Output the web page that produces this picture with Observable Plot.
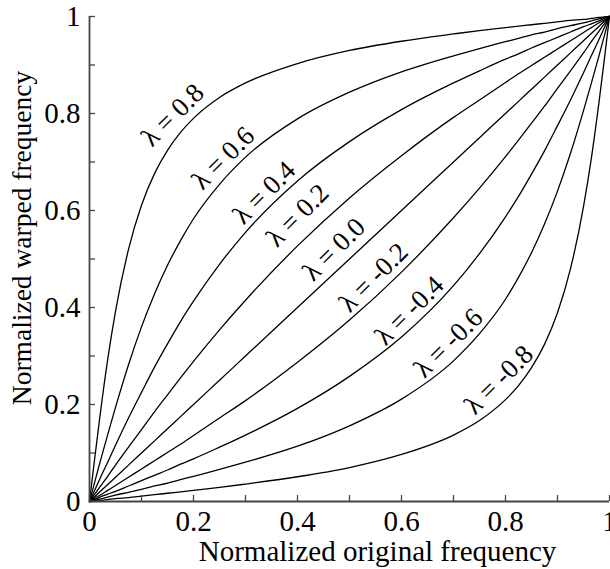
<!DOCTYPE html>
<html><head><meta charset="utf-8">
<script src="https://cdn.jsdelivr.net/npm/d3@7"></script>
<script src="https://cdn.jsdelivr.net/npm/@observablehq/plot@0.6"></script>
<style>body{margin:0;background:#fff}</style>
</head><body><div id="chart"></div>
<script>
// Normalized original frequency (sample positions)
const xs = [0, 0.01, 0.02, 0.035, 0.05, 0.075, 0.1, 0.125, 0.15, 0.175, 0.2, 0.25, 0.3, 0.4, 0.5, 0.6, 0.7, 0.75, 0.8, 0.825, 0.85, 0.875, 0.9, 0.925, 0.95, 0.965, 0.98, 0.99, 1];

// Normalized warped frequency, one array per lambda
const yL08  = [0, 0.089, 0.175, 0.293, 0.392, 0.520, 0.611, 0.676, 0.724, 0.761, 0.790, 0.833, 0.863, 0.903, 0.930, 0.949, 0.964, 0.971, 0.977, 0.980, 0.983, 0.986, 0.989, 0.992, 0.994, 0.996, 0.998, 0.999, 1];
const yL06  = [0, 0.040, 0.080, 0.138, 0.194, 0.282, 0.360, 0.428, 0.487, 0.538, 0.583, 0.654, 0.710, 0.789, 0.844, 0.886, 0.919, 0.934, 0.948, 0.955, 0.962, 0.968, 0.975, 0.981, 0.987, 0.991, 0.995, 0.998, 1];
const yL04  = [0, 0.023, 0.047, 0.081, 0.116, 0.172, 0.225, 0.277, 0.325, 0.371, 0.413, 0.489, 0.555, 0.661, 0.742, 0.808, 0.863, 0.888, 0.912, 0.923, 0.935, 0.946, 0.957, 0.968, 0.979, 0.985, 0.991, 0.996, 1];
const yL02  = [0, 0.015, 0.030, 0.052, 0.075, 0.112, 0.148, 0.185, 0.220, 0.255, 0.289, 0.354, 0.415, 0.527, 0.626, 0.713, 0.792, 0.828, 0.864, 0.882, 0.899, 0.916, 0.933, 0.950, 0.967, 0.977, 0.987, 0.993, 1];
const yL00  = [0, 0.01, 0.02, 0.035, 0.05, 0.075, 0.1, 0.125, 0.15, 0.175, 0.2, 0.25, 0.3, 0.4, 0.5, 0.6, 0.7, 0.75, 0.8, 0.825, 0.85, 0.875, 0.9, 0.925, 0.95, 0.965, 0.98, 0.99, 1];
const yLm02 = [0, 0.007, 0.013, 0.023, 0.033, 0.050, 0.067, 0.084, 0.101, 0.118, 0.136, 0.172, 0.208, 0.287, 0.374, 0.473, 0.585, 0.646, 0.711, 0.745, 0.780, 0.815, 0.852, 0.888, 0.925, 0.948, 0.970, 0.985, 1];
const yLm04 = [0, 0.004, 0.009, 0.015, 0.021, 0.032, 0.043, 0.054, 0.065, 0.077, 0.088, 0.112, 0.137, 0.192, 0.258, 0.339, 0.445, 0.511, 0.587, 0.629, 0.675, 0.723, 0.775, 0.828, 0.884, 0.919, 0.953, 0.977, 1];
const yLm06 = [0, 0.002, 0.005, 0.009, 0.013, 0.019, 0.025, 0.032, 0.038, 0.045, 0.052, 0.066, 0.081, 0.114, 0.156, 0.211, 0.290, 0.346, 0.417, 0.462, 0.513, 0.572, 0.640, 0.718, 0.806, 0.862, 0.920, 0.960, 1];
const yLm08 = [0, 0.001, 0.002, 0.004, 0.006, 0.008, 0.011, 0.014, 0.017, 0.020, 0.023, 0.029, 0.036, 0.051, 0.070, 0.097, 0.137, 0.167, 0.210, 0.239, 0.276, 0.324, 0.389, 0.480, 0.608, 0.707, 0.825, 0.911, 1];

const lambdas = ["0.8", "0.6", "0.4", "0.2", "0.0", "-0.2", "-0.4", "-0.6", "-0.8"];
const series = [yL08, yL06, yL04, yL02, yL00, yLm02, yLm04, yLm06, yLm08];

// Curve label anchors (data units)
const labelX = [0.160, 0.257, 0.336, 0.400, 0.470, 0.546, 0.615, 0.690, 0.787];
const labelY = [0.797, 0.708, 0.637, 0.590, 0.520, 0.462, 0.394, 0.327, 0.251];

// Axis ticks
const majorTicks = [0, 0.2, 0.4, 0.6, 0.8, 1];
const minorTicks = [0, 0.1, 0.2, 0.3, 0.4, 0.5, 0.6, 0.7, 0.8, 0.9, 1];
const xTitle = "Normalized original frequency";
const yTitle = "Normalized warped frequency";

const rows = [];
series.forEach((ys, k) => ys.forEach((y, i) => rows.push({lambda: lambdas[k], x: xs[i], y})));
const labels = lambdas.map((l, i) => ({text: "λ = " + l, x: labelX[i], y: labelY[i]}));

const serif = "Liberation Serif, Times New Roman, serif";

const chart = Plot.plot({
  width: 610,
  height: 569,
  marginLeft: 89,
  marginRight: 1,
  marginTop: 16,
  marginBottom: 68,
  style: {fontFamily: serif, fontSize: "29px", color: "black", background: "white"},
  x: {domain: [0, 1]},
  y: {domain: [0, 1]},
  marks: [
    Plot.line(rows, {x: "x", y: "y", z: "lambda", stroke: "black", strokeWidth: 1.3, curve: "monotone-x"}),
    Plot.text(labels, {x: "x", y: "y", text: "text", rotate: -45, fontSize: 27, fontFamily: serif, fill: "black"}),
    Plot.ruleX(minorTicks, {x: d => d, insetTop: 479, stroke: "#444", strokeWidth: 1.3}),
    Plot.ruleY(minorTicks, {y: d => d, insetRight: 514, stroke: "#444", strokeWidth: 1.3}),
    Plot.axisX(majorTicks, {tickSize: 0, tickPadding: 9, tickFormat: d => String(d), label: null, fontSize: 29}),
    Plot.axisY(majorTicks, {tickSize: 0, tickPadding: 9, tickFormat: d => String(d), label: null, fontSize: 29}),
    Plot.ruleX([0], {stroke: "#444", strokeWidth: 1.8}),
    Plot.ruleY([0], {stroke: "#444", strokeWidth: 1.8}),
    Plot.text([xTitle], {frameAnchor: "bottom", textAnchor: "middle", lineAnchor: "middle", dx: 28, dy: 50, fontSize: 29, fontFamily: serif, fill: "black"}),
    Plot.text([yTitle], {frameAnchor: "left", textAnchor: "middle", lineAnchor: "middle", dx: -67, dy: -21, rotate: -90, fontSize: 27.5, fontFamily: serif, fill: "black"})
  ]
});
document.getElementById("chart").append(chart);
</script>
</body></html>
